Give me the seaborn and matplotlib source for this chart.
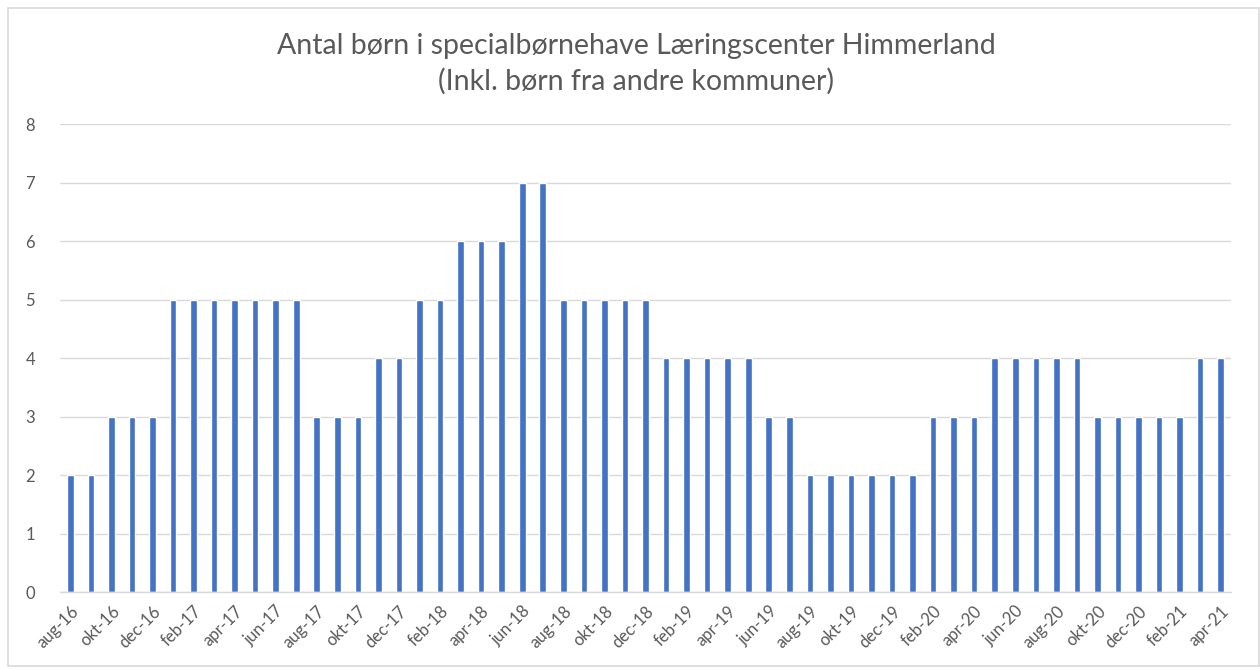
import pandas as pd
import seaborn as sns
import matplotlib.pyplot as plt
from matplotlib.patches import Rectangle

# måneder aug-16 .. apr-21
maaneder = ['jan', 'feb', 'mar', 'apr', 'maj', 'jun', 'jul', 'aug', 'sep', 'okt', 'nov', 'dec']
perioder = []
for aar in range(16, 22):
    for m in maaneder:
        perioder.append(f'{m}-{aar}')
perioder = perioder[perioder.index('aug-16'):perioder.index('apr-21') + 1]

antal_2016 = [2, 2, 3, 3, 3]
antal_2017 = [5, 5, 5, 5, 5, 5, 5, 3, 3, 3, 4, 4]
antal_2018 = [5, 5, 6, 6, 6, 7, 7, 5, 5, 5, 5, 5]
antal_2019 = [4, 4, 4, 4, 4, 3, 3, 2, 2, 2, 2, 2]
antal_2020 = [2, 3, 3, 3, 4, 4, 4, 4, 4, 3, 3, 3]
antal_2021 = [3, 3, 4, 4]
antal = antal_2016 + antal_2017 + antal_2018 + antal_2019 + antal_2020 + antal_2021

df = pd.DataFrame({'periode': perioder, 'antal': antal})

sns.set_style('white')
plt.rcParams['font.family'] = ['Lato', 'DejaVu Sans']

fig = plt.figure(figsize=(12.6, 6.7), dpi=100)
ax = fig.add_axes([0.0476, 0.1164, 0.9294, 0.6985])

sns.barplot(data=df, x='periode', y='antal', color='#4472C4', width=0.32,
            saturation=1, ax=ax)

ax.set_ylim(0, 8)
ax.set_xlim(-0.5, len(perioder) - 0.5)
ax.set_yticks(range(0, 9))
ax.yaxis.grid(True, color='#D9D9D9', linewidth=1)
ax.set_axisbelow(True)
for s in ['top', 'right', 'left']:
    ax.spines[s].set_visible(False)
ax.spines['bottom'].set_color('#D9D9D9')
ax.spines['bottom'].set_linewidth(1)

pos = list(range(0, len(perioder), 2))
ax.set_xticks(pos)
ax.set_xticklabels([perioder[i] for i in pos], rotation=45, ha='right',
                   rotation_mode='anchor')
ax.set_xticks([p - 0.5 for p in pos], minor=True)
ax.tick_params(axis='x', which='major', length=0, pad=8, labelsize=12, labelcolor='#595959')
ax.tick_params(axis='x', which='minor', length=5, color='#D9D9D9', width=1)
ax.tick_params(axis='y', length=0, pad=18, labelsize=12, labelcolor='#595959')
ax.set_xlabel('')
ax.set_ylabel('')

fig.text(0.505, 0.931, 'Antal børn i specialbørnehave Læringscenter Himmerland',
         ha='center', va='center', fontsize=20.5, color='#595959')
fig.text(0.505, 0.878, '(Inkl. børn fra andre kommuner)',
         ha='center', va='center', fontsize=20.5, color='#595959')

fig.patches.append(Rectangle((0.006, 0.006), 0.993, 0.982, transform=fig.transFigure,
                             fill=False, edgecolor='#D9D9D9', linewidth=1.2))

fig.savefig('out.png', dpi=100)
